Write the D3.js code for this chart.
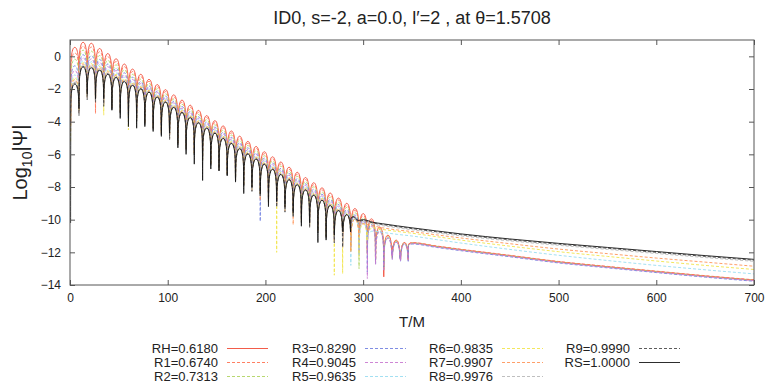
<!DOCTYPE html>
<html>
<head>
<meta charset="utf-8">
<script src="https://cdn.jsdelivr.net/npm/d3@7"></script>
<style>
  body { margin: 0; background: #fff; }
  text { font-family: "Liberation Sans", Arial, sans-serif; fill: #222; }
</style>
</head>
<body>
<div id="chart"></div>
<script>
// series, in drawing order (RH first, RS on top)
const seriesLabels = ["RH=0.6180", "R1=0.6740", "R2=0.7313", "R3=0.8290", "R4=0.9045", "R5=0.9635",
                      "R6=0.9835", "R7=0.9907", "R8=0.9976", "R9=0.9990", "RS=1.0000"];
const seriesColors = ["#f04a35", "#ff7050", "#b0d460", "#7080e0", "#c878d0", "#98dcf0",
                      "#f2e44a", "#ff9458", "#b8b8b8", "#4a4a4a", "#151515"];
const seriesDashed = [false, true, true, true, true, true, true, true, true, true, false];

// times of the ringdown cusps (zeros of Psi)
const cuspT = [0.6, 9.2, 17.6, 26.1, 34.5, 42.9, 51.4, 59.8, 68.2, 76.6, 85.1, 93.5, 101.9, 110.4, 118.8,
               127.2, 135.7, 144.1, 152.5, 160.9, 169.4, 177.8, 186.2, 194.7, 203.1, 211.5, 220.0, 228.4,
               236.8, 245.2, 253.7, 262.1, 270.5, 279.0, 287.4, 295.8, 304.3, 312.7, 321.1, 329.6, 338.0, 346.4];

// lobe peaks (log10|Psi|) between consecutive cusps
const peaksRH = [0.55, 0.86, 0.80, 0.48, 0.17, -0.15, -0.47, -0.78, -1.10, -1.41, -1.73, -2.04, -2.36, -2.68, -2.99,
  -3.31, -3.63, -3.94, -4.26, -4.57, -4.89, -5.21, -5.52, -5.84, -6.15, -6.47, -6.79, -7.10, -7.42, -7.74, -8.05,
  -8.37, -8.68, -9.00, -9.32, -9.63, -9.95, -10.45, -10.95, -11.25, -11.40];
const peaksR1 = [0.21, 0.63, 0.57, 0.28, -0.02, -0.32, -0.63, -0.93, -1.24, -1.53, -1.85, -2.16, -2.48, -2.80, -3.11,
  -3.43, -3.75, -4.06, -4.38, -4.69, -5.01, -5.33, -5.64, -5.96, -6.27, -6.59, -6.91, -7.22, -7.54, -7.86, -8.17,
  -8.49, -8.80, -9.12, -9.44, -9.75, -10.06, -10.52, -10.98, -11.27, -11.40];
const peaksR2 = [-0.17, 0.38, 0.32, 0.05, -0.24, -0.52, -0.82, -1.10, -1.39, -1.66, -1.98, -2.29, -2.61, -2.93, -3.24,
  -3.56, -3.88, -4.19, -4.51, -4.82, -5.14, -5.46, -5.77, -6.09, -6.40, -6.72, -7.04, -7.35, -7.67, -7.99, -8.30,
  -8.62, -8.93, -9.25, -9.57, -9.88, -10.18, -10.60, -11.05, -11.32, -11.43];
const peaksR3 = [-0.58, 0.10, 0.05, -0.19, -0.47, -0.73, -1.01, -1.28, -1.55, -1.81, -2.12, -2.43, -2.75, -3.07, -3.38,
  -3.70, -4.02, -4.33, -4.65, -4.96, -5.28, -5.60, -5.91, -6.23, -6.54, -6.86, -7.18, -7.49, -7.81, -8.13, -8.44,
  -8.76, -9.07, -9.39, -9.71, -10.02, -10.30, -10.70, -11.12, -11.38, -11.50];
const peaksR4 = [-0.87, -0.09, -0.15, -0.36, -0.63, -0.87, -1.15, -1.41, -1.67, -1.91, -2.22, -2.53, -2.85, -3.17, -3.48,
  -3.80, -4.12, -4.43, -4.75, -5.06, -5.38, -5.70, -6.01, -6.33, -6.64, -6.96, -7.28, -7.59, -7.91, -8.23, -8.54,
  -8.86, -9.17, -9.49, -9.81, -10.12, -10.40, -10.75, -11.15, -11.38, -11.48];
const peaksR5 = [-1.14, -0.27, -0.33, -0.52, -0.78, -1.01, -1.28, -1.53, -1.78, -2.00, -2.31, -2.62, -2.94, -3.26, -3.57,
  -3.89, -4.21, -4.52, -4.84, -5.15, -5.47, -5.79, -6.10, -6.42, -6.73, -7.05, -7.37, -7.68, -8.00, -8.32, -8.63,
  -8.95, -9.26, -9.58, -9.90, -10.20];
const peaksR6 = [-1.32, -0.39, -0.45, -0.62, -0.88, -1.10, -1.37, -1.61, -1.85, -2.07, -2.37, -2.68, -3.00, -3.32, -3.63,
  -3.95, -4.27, -4.58, -4.90, -5.21, -5.53, -5.85, -6.16, -6.48, -6.79, -7.11, -7.43, -7.74, -8.06, -8.38, -8.69,
  -9.01, -9.32, -9.64, -9.95, -10.25];
const peaksR7 = [-1.43, -0.47, -0.52, -0.69, -0.95, -1.16, -1.42, -1.66, -1.89, -2.11, -2.41, -2.72, -3.04, -3.36, -3.67,
  -3.99, -4.31, -4.62, -4.94, -5.25, -5.57, -5.89, -6.20, -6.52, -6.83, -7.15, -7.47, -7.78, -8.10, -8.42, -8.73,
  -9.05, -9.36, -9.68, -9.98];
const peaksR8 = [-1.54, -0.54, -0.60, -0.76, -1.01, -1.22, -1.47, -1.71, -1.94, -2.14, -2.45, -2.76, -3.08, -3.40, -3.71,
  -4.03, -4.35, -4.66, -4.98, -5.29, -5.61, -5.93, -6.24, -6.56, -6.87, -7.19, -7.51, -7.82, -8.14, -8.46, -8.77,
  -9.09, -9.40, -9.68];
const peaksR9 = [-1.63, -0.60, -0.66, -0.81, -1.06, -1.27, -1.52, -1.75, -1.97, -2.18, -2.48, -2.79, -3.11, -3.43, -3.74,
  -4.06, -4.38, -4.69, -5.01, -5.32, -5.64, -5.96, -6.27, -6.59, -6.90, -7.22, -7.54, -7.85, -8.17, -8.49, -8.80,
  -9.12, -9.43, -9.69];
const peaksRS = [-1.70, -0.65, -0.70, -0.85, -1.10, -1.30, -1.55, -1.78, -2.00, -2.20, -2.50, -2.81, -3.13, -3.45, -3.76,
  -4.08, -4.40, -4.71, -5.03, -5.34, -5.66, -5.98, -6.29, -6.61, -6.92, -7.24, -7.56, -7.87, -8.19, -8.51, -8.82,
  -9.14, -9.45, -9.70];

// cusp depths of the RS (black) curve, every cusp is visible
const depthRS = [-10.2, -3.2, -2.3, -2.6, -2.6, -3.3, -3.8, -4.3, -4.4, -4.3, -4.6, -4.9, -4.7, -5.6, -6.0, -6.6, -7.6,
  -6.9, -7.0, -7.3, -7.7, -8.4, -8.0, -8.4, -9.2, -8.9, -9.2, -9.6, -10.4, -10.2, -11.4, -11.25, -10.95, -10.1, -9.95];
// starting values at t~0 for the other series
const startDepth = [-4.2, -4.6, -3.8, -3.4, -3.2, -3.0, -5.2, -4.0, -3.0, -3.5];
// typical cusp depth below the neighbouring lobes (hidden inside the bundle)
const cuspDrop = 2.0;
// visible spikes / shallow cusps: [series, cusp index, depth]
const spikes = [
  [1, 3, -3.5], [6, 4, -3.6], [3, 7, -4.0], [6, 7, -4.5], [4, 13, -5.1], [5, 15, -5.4], [1, 19, -6.8],
  [7, 23, -8.8], [3, 23, -10.1], [6, 25, -12.0], [7, 27, -10.3], [6, 32, -13.4], [6, 33, -13.3],
  [5, 34, -12.8], [2, 35, -13.0], [4, 36, -13.6], [3, 36, -13.2], [0, 38, -13.5], [1, 38, -13.0], [3, 38, -12.9],
  [5, 36, -10.9], [6, 36, -10.8], [7, 35, -10.5], [8, 34, -10.0], [9, 34, -10.0],
  [0, 39, -11.6], [0, 40, -12.05], [0, 41, -11.5], [1, 39, -11.7], [1, 40, -11.9], [1, 41, -11.5],
  [2, 39, -11.8], [2, 40, -11.95], [2, 41, -11.55], [3, 39, -11.9], [3, 40, -12.0], [3, 41, -11.6],
  [4, 39, -11.85], [4, 40, -12.0], [4, 41, -11.58]
];
// arch profile of one lobe: [fraction of lobe width, drop from lobe peak]
const lobeShape = [[0.03, -1.05], [0.07, -0.68], [0.13, -0.42], [0.2, -0.24], [0.3, -0.09], [0.4, -0.02], [0.5, 0],
  [0.6, -0.02], [0.7, -0.09], [0.8, -0.24], [0.87, -0.42], [0.93, -0.68], [0.97, -1.05]];

// late-time tails
const tailT = [290, 295, 300, 310, 320, 335, 350, 375, 400, 450, 500, 550, 600, 650, 700];
const tailRH = [null, null, null, null, null, null, -11.42, -11.63, -11.83, -12.20, -12.58, -12.88, -13.17, -13.45, -13.70];
const tailR1 = [null, null, null, null, null, null, -11.40, -11.61, -11.81, -12.18, -12.56, -12.86, -13.15, -13.43, -13.68];
const tailR2 = [null, null, null, null, null, null, -11.44, -11.65, -11.85, -12.22, -12.60, -12.90, -13.19, -13.47, -13.72];
const tailR3 = [null, null, null, null, null, null, -11.49, -11.70, -11.90, -12.27, -12.65, -12.95, -13.24, -13.52, -13.77];
const tailR4 = [null, null, null, null, null, null, -11.46, -11.67, -11.87, -12.24, -12.62, -12.92, -13.21, -13.49, -13.74];
const tailR5 = [null, null, null, -10.70, -10.78, -10.90, -11.00, -11.22, -11.43, -11.82, -12.18, -12.50, -12.80, -13.07, -13.32];
const tailR6 = [null, null, null, -10.50, -10.60, -10.72, -10.83, -11.04, -11.25, -11.62, -11.96, -12.25, -12.53, -12.80, -13.05];
const tailR7 = [null, null, -10.25, -10.38, -10.50, -10.63, -10.73, -10.93, -11.12, -11.47, -11.80, -12.08, -12.35, -12.60, -12.85];
const tailR8 = [-9.92, -10.17, -10.12, -10.28, -10.37, -10.50, -10.62, -10.81, -10.99, -11.30, -11.57, -11.82, -12.07, -12.32, -12.55];
const tailR9 = [-9.85, -10.10, -10.05, -10.21, -10.30, -10.43, -10.55, -10.74, -10.92, -11.23, -11.50, -11.75, -12.00, -12.25, -12.48];
const tailRS = [-9.80, -10.05, -10.00, -10.16, -10.25, -10.38, -10.50, -10.69, -10.87, -11.18, -11.45, -11.70, -11.95, -12.20, -12.43];

const xTicks = [0, 100, 200, 300, 400, 500, 600, 700];
const yTicks = [0, -2, -4, -6, -8, -10, -12, -14];

const peakRows = [peaksRH, peaksR1, peaksR2, peaksR3, peaksR4, peaksR5, peaksR6, peaksR7, peaksR8, peaksR9, peaksRS];
const tailRows = [tailRH, tailR1, tailR2, tailR3, tailR4, tailR5, tailR6, tailR7, tailR8, tailR9, tailRS];

const width = 767, height = 385;
const margin = { top: 40, right: 13, bottom: 100, left: 70 };

const svg = d3.select('#chart').append('svg')
  .attr('width', width)
  .attr('height', height);

const x = d3.scaleLinear().domain([0, 700]).range([margin.left, width - margin.right]);
const y = d3.scaleLinear().domain([-14, 1]).range([height - margin.bottom, margin.top]);

svg.append('defs').append('clipPath').attr('id', 'clip')
  .append('rect')
  .attr('x', x(0)).attr('y', y(1))
  .attr('width', x(700) - x(0)).attr('height', y(-14) - y(1));

function buildPoints(k) {
  const peaks = peakRows[k];
  const last = peaks.length - 1;
  const depthAt = i => {
    const o = spikes.find(s => s[0] === k && s[1] === i);
    if (o) return o[2];
    if (k === 10) return depthRS[i];
    if (i === 0) return startDepth[k];
    const a = peaks[i - 1], b = i <= last ? peaks[i] : a;
    return Math.min(a, b) - cuspDrop;
  };
  const pts = [];
  for (let i = 0; i <= last; i++) {
    const t0 = cuspT[i], w = cuspT[i + 1] - t0;
    pts.push([t0, depthAt(i)]);
    lobeShape.forEach(([f, d]) => pts.push([t0 + f * w, peaks[i] + d]));
  }
  const tEnd = cuspT[last + 1];
  pts.push([tEnd, depthAt(last + 1)]);
  tailT.forEach((t, j) => {
    if (t > tEnd && tailRows[k][j] !== null) pts.push([t, tailRows[k][j]]);
  });
  return pts;
}

const line = d3.line()
  .x(d => x(d[0]))
  .y(d => y(d[1]))
  .curve(d3.curveMonotoneX);

const curves = svg.append('g').attr('clip-path', 'url(#clip)');
seriesLabels.forEach((lab, k) => {
  curves.append('path')
    .datum(buildPoints(k))
    .attr('d', line)
    .attr('fill', 'none')
    .attr('stroke', seriesColors[k])
    .attr('stroke-width', 0.9)
    .attr('stroke-dasharray', seriesDashed[k] ? '3,2' : null);
});

// axes with inward ticks, mirrored on top and right
const axisColor = '#555';
function styleAxis(g, hideLabels) {
  g.select('.domain').remove();
  g.selectAll('.tick line').attr('stroke', axisColor);
  g.selectAll('.tick text')
    .style('font-family', '"Liberation Sans", Arial, sans-serif')
    .style('font-size', '12px')
    .attr('fill', '#222');
  if (hideLabels) g.selectAll('.tick text').remove();
}

svg.append('g')
  .attr('transform', `translate(0,${y(-14)})`)
  .call(d3.axisBottom(x).tickValues(xTicks).tickSize(-5).tickPadding(8))
  .call(g => styleAxis(g, false));
svg.append('g')
  .attr('transform', `translate(0,${y(1)})`)
  .call(d3.axisTop(x).tickValues(xTicks).tickSize(-5))
  .call(g => styleAxis(g, true));
svg.append('g')
  .attr('transform', `translate(${x(0)},0)`)
  .call(d3.axisLeft(y).tickValues(yTicks).tickSize(-5).tickPadding(9).tickFormat(d3.format('d')))
  .call(g => styleAxis(g, false));
svg.append('g')
  .attr('transform', `translate(${x(700)},0)`)
  .call(d3.axisRight(y).tickValues(yTicks).tickSize(-5))
  .call(g => styleAxis(g, true));

svg.append('rect')
  .attr('x', x(0)).attr('y', y(1))
  .attr('width', x(700) - x(0)).attr('height', y(-14) - y(1))
  .attr('fill', 'none')
  .attr('stroke', axisColor)
  .attr('stroke-width', 1);

// title and axis labels
svg.append('text')
  .attr('x', (x(0) + x(700)) / 2).attr('y', 24)
  .attr('text-anchor', 'middle')
  .style('font-size', '18px')
  .text('ID0, s=-2, a=0.0, l\u2032=2 , at \u03b8=1.5708');

svg.append('text')
  .attr('x', (x(0) + x(700)) / 2).attr('y', 327)
  .attr('text-anchor', 'middle')
  .style('font-size', '15px')
  .text('T/M');

const ylab = svg.append('text')
  .attr('transform', `translate(27,${(y(1) + y(-14)) / 2}) rotate(-90)`)
  .attr('text-anchor', 'middle')
  .style('font-size', '20px');
ylab.append('tspan').text('Log');
ylab.append('tspan').attr('dy', 5).style('font-size', '14px').text('10');
ylab.append('tspan').attr('dy', -5).text('|\u03a8|');

// legend, column by column
const legendCols = [218, 356, 493, 630];
const legendRows = [348, 362, 376];
seriesLabels.forEach((lab, k) => {
  const cx = legendCols[Math.floor(k / 3)], cy = legendRows[k % 3];
  svg.append('text')
    .attr('x', cx).attr('y', cy)
    .attr('dy', '0.35em')
    .attr('text-anchor', 'end')
    .style('font-size', '13px')
    .text(lab);
  svg.append('line')
    .attr('x1', cx + 9).attr('x2', cx + 50)
    .attr('y1', cy + 0.5).attr('y2', cy + 0.5)
    .attr('stroke', seriesColors[k])
    .attr('stroke-width', 0.9)
    .attr('stroke-dasharray', seriesDashed[k] ? '3,2' : null);
});
</script>
</body>
</html>
